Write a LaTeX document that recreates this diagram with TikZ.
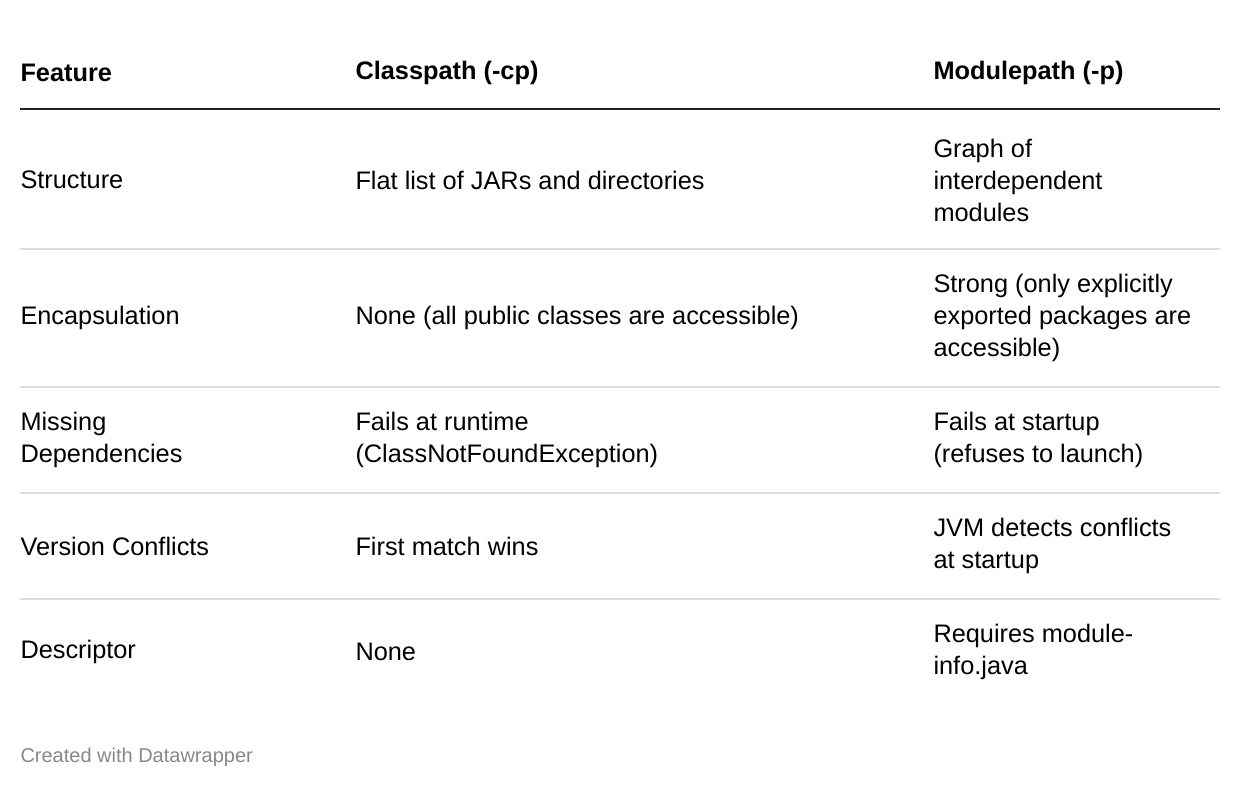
\documentclass[tikz,border=0pt]{standalone}
\usepackage{fontspec}
\setmainfont{Liberation Sans}
\tikzset{every picture/.style={line width=0.75pt}}
\tikzset{cell/.style={anchor=west,inner sep=0pt,align=left,font=\fontsize{19}{24}\selectfont},
  head/.style={cell,font=\fontsize{19}{24}\selectfont\bfseries},
  rowrule/.style={color={rgb, 255:red, 221; green, 221; blue, 221 },line width=1pt}}
\begin{document}
\begin{tikzpicture}[x=0.75pt,y=0.75pt,yscale=-1,xscale=1]
\useasboundingbox (0,0) rectangle (1240,790);

%Straight Lines
\draw [line width=2.2pt,color={rgb, 255:red, 34; green, 34; blue, 34 }]   (20,109) -- (1220,109) ;
\draw [rowrule]   (20,249) -- (1220,249) ;
\draw [rowrule]   (20,387) -- (1220,387) ;
\draw [rowrule]   (20,493) -- (1220,493) ;
\draw [rowrule]   (20,599) -- (1220,599) ;

% Text Node
\node [head] (hfeat) at (20,73) {Feature};
\node [head] (hcp) at (355,73) {Classpath (-cp)};
\node [head] (hmp) at (933,73) {Modulepath (-p)};
% Text Node
\node [cell] (struct) at (20,180) {Structure};
\node [cell] (structcp) at (355,180) {Flat list of JARs and directories};
\node [cell] (structmp) at (933,180) {Graph of\\interdependent\\modules};
% Text Node
\node [cell] (encap) at (20,318) {Encapsulation};
\node [cell] (encapcp) at (355,318) {None (all public classes are accessible)};
\node [cell] (encapmp) at (933,318) {Strong (only explicitly\\exported packages are\\accessible)};
% Text Node
\node [cell] (missing) at (20,440) {Missing\\Dependencies};
\node [cell] (missingcp) at (355,440) {Fails at runtime\\(ClassNotFoundException)};
\node [cell] (missingmp) at (933,440) {Fails at startup\\(refuses to launch)};
% Text Node
\node [cell] (version) at (20,546) {Version Conflicts};
\node [cell] (versioncp) at (355,546) {First match wins};
\node [cell] (versionmp) at (933,546) {JVM detects conflicts\\at startup};
% Text Node
\node [cell] (descr) at (20,652) {Descriptor};
\node [cell] (descrcp) at (355,652) {None};
\node [cell] (descrmp) at (933,652) {Requires module-\\info.java};
% Text Node
\node [anchor=west,inner sep=0pt,font=\fontsize{15}{18}\selectfont,color={rgb, 255:red, 136; green, 136; blue, 136 }] (credit) at (20,757) {Created with Datawrapper};

\end{tikzpicture}
\end{document}
